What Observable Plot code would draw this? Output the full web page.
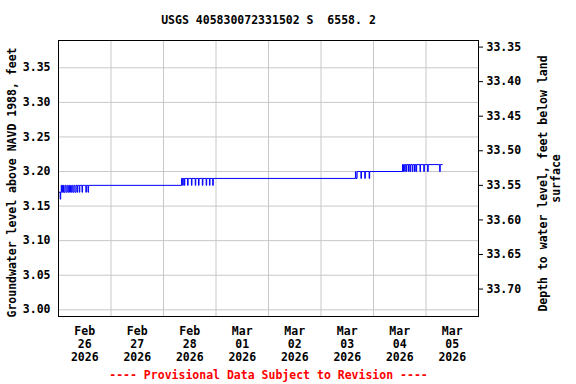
<!DOCTYPE html>
<html>
<head>
<meta charset="utf-8">
<script src="https://cdn.jsdelivr.net/npm/d3@7"></script>
<script src="https://cdn.jsdelivr.net/npm/@observablehq/plot@0.6"></script>
<style>
  html, body { margin: 0; padding: 0; background: white; }
</style>
</head>
<body>
<div id="chart"></div>
<script>
// ---- Data ----
const titleText = "USGS 405830072331502 S  6558. 2";
const leftLabel = "Groundwater level above NAVD 1988, feet";
const rightLabel1 = "Depth to water level, feet below land";
const rightLabel2 = "surface";
const captionText = "---- Provisional Data Subject to Revision ----";

// Observation change points (UTC), groundwater level above NAVD 1988, feet
const times = [
  "2026-02-26T00:00","2026-02-26T00:45","2026-02-26T01:00","2026-02-26T01:15","2026-02-26T01:30",
  "2026-02-26T01:45","2026-02-26T02:00","2026-02-26T02:15","2026-02-26T02:30","2026-02-26T03:00",
  "2026-02-26T03:30","2026-02-26T04:00","2026-02-26T04:30","2026-02-26T05:00","2026-02-26T05:30",
  "2026-02-26T06:00","2026-02-26T06:30","2026-02-26T07:00","2026-02-26T07:30","2026-02-26T08:00",
  "2026-02-26T08:30","2026-02-26T08:45","2026-02-26T09:30","2026-02-26T09:45","2026-02-26T10:45",
  "2026-02-26T11:00","2026-02-26T12:30","2026-02-26T12:45","2026-02-26T13:30","2026-02-26T13:45",
  "2026-02-28T08:15","2026-02-28T08:45","2026-02-28T09:00","2026-02-28T09:30","2026-02-28T09:45",
  "2026-02-28T11:00","2026-02-28T11:15","2026-02-28T12:45","2026-02-28T13:00","2026-02-28T14:30",
  "2026-02-28T14:45","2026-02-28T16:00","2026-02-28T16:15","2026-02-28T17:45","2026-02-28T18:00",
  "2026-02-28T19:30","2026-02-28T19:45","2026-02-28T21:00","2026-02-28T21:15","2026-02-28T22:30",
  "2026-02-28T22:45",
  "2026-03-03T15:45","2026-03-03T16:00","2026-03-03T16:30","2026-03-03T18:15","2026-03-03T18:30",
  "2026-03-03T20:00","2026-03-03T20:15","2026-03-03T22:00","2026-03-03T22:15",
  "2026-03-04T13:15","2026-03-04T13:30","2026-03-04T13:45","2026-03-04T14:15","2026-03-04T14:30",
  "2026-03-04T15:00","2026-03-04T15:15","2026-03-04T16:00","2026-03-04T16:15","2026-03-04T16:45",
  "2026-03-04T17:00","2026-03-04T17:45","2026-03-04T18:00","2026-03-04T18:45","2026-03-04T19:00",
  "2026-03-04T19:30","2026-03-04T19:45","2026-03-04T21:15","2026-03-04T21:30","2026-03-04T23:00",
  "2026-03-04T23:15","2026-03-05T00:45","2026-03-05T01:00","2026-03-05T06:15","2026-03-05T06:30",
  "2026-03-05T07:30"
];
const levels = [
  3.17,3.16,3.17,3.18,3.17,
  3.18,3.17,3.18,3.17,3.18,
  3.17,3.18,3.17,3.18,3.17,
  3.18,3.17,3.18,3.17,3.18,
  3.17,3.18,3.17,3.18,3.17,
  3.18,3.17,3.18,3.17,3.18,
  3.19,3.18,3.19,3.18,3.19,
  3.18,3.19,3.18,3.19,3.18,
  3.19,3.18,3.19,3.18,3.19,
  3.18,3.19,3.18,3.19,3.18,
  3.19,
  3.20,3.19,3.20,3.19,3.20,
  3.19,3.20,3.19,3.20,
  3.21,3.20,3.21,3.20,3.21,
  3.20,3.21,3.20,3.21,3.20,
  3.21,3.20,3.21,3.20,3.21,
  3.20,3.21,3.20,3.21,3.20,
  3.21,3.20,3.21,3.20,3.21,
  3.21
];

// Axes
const xDomain = ["2026-02-26T00:00", "2026-03-06T00:00"];
const xTickDates = ["2026-02-26T12:00","2026-02-27T12:00","2026-02-28T12:00","2026-03-01T12:00",
                    "2026-03-02T12:00","2026-03-03T12:00","2026-03-04T12:00","2026-03-05T12:00"];
const xGridDates = ["2026-02-27T00:00","2026-02-28T00:00","2026-03-01T00:00","2026-03-02T00:00",
                    "2026-03-03T00:00","2026-03-04T00:00","2026-03-05T00:00"];
const yDomain = [2.9903, 3.3895];
const leftTicks = [3.00, 3.05, 3.10, 3.15, 3.20, 3.25, 3.30, 3.35];
const depthTicks = [33.35, 33.40, 33.45, 33.50, 33.55, 33.60, 33.65, 33.70];
const depthOffset = 36.73; // depth below land surface = offset - level

// ---- Build ----
const utc = s => new Date(s + ":00Z");
const data = times.map((t, i) => ({date: utc(t), level: levels[i]}));
const font = "'DejaVu Sans Mono', monospace";
const textStyle = {fontSize: 11.5, fontWeight: "bold", textAnchor: "middle", lineAnchor: "middle"};

const chart = Plot.plot({
  width: 576,
  height: 384,
  marginLeft: 58,
  marginRight: 98,
  marginTop: 40,
  marginBottom: 68,
  style: {fontFamily: font, fontSize: "11.5px", fontWeight: "bold", background: "white", color: "black"},
  x: {type: "utc", domain: xDomain.map(utc)},
  y: {domain: yDomain},
  marks: [
    Plot.ruleX(xGridDates.map(utc), {stroke: "#c8c8c8", strokeOpacity: 1}),
    Plot.ruleY(leftTicks, {stroke: "#c8c8c8", strokeOpacity: 1}),
    Plot.line(data, {x: "date", y: "level", curve: "step-after", stroke: "#0000ff", strokeWidth: 1}),
    Plot.frame({stroke: "black", strokeWidth: 1}),
    Plot.axisY(leftTicks, {anchor: "left", tickSize: 0, tickPadding: 8, tickFormat: d3.format(".2f"), label: null}),
    Plot.axisY(depthTicks.map(d => depthOffset - d), {anchor: "right", tickSize: 4, tickPadding: 4,
      tickFormat: v => (depthOffset - v).toFixed(2), label: null}),
    Plot.axisX(xTickDates.map(utc), {anchor: "bottom", tickSize: 0, tickPadding: 9, lineHeight: 1.13,
      tickFormat: d3.utcFormat("%b\n%d\n%Y"), label: null}),
    Plot.text([titleText], {...textStyle, frameAnchor: "top", dy: -20, fill: "black"}),
    Plot.text([captionText], {...textStyle, frameAnchor: "bottom", dy: 59, fill: "#ff0000"}),
    Plot.text([leftLabel], {...textStyle, frameAnchor: "left", dx: -46.5, dy: 4, rotate: -90, fill: "black"}),
    Plot.text([rightLabel1], {...textStyle, frameAnchor: "right", dx: 65.3, dy: 5, rotate: -90, fill: "black"}),
    Plot.text([rightLabel2], {...textStyle, frameAnchor: "right", dx: 78, dy: 0, rotate: -90, fill: "black"})
  ]
});
document.getElementById("chart").appendChild(chart);
</script>
</body>
</html>
